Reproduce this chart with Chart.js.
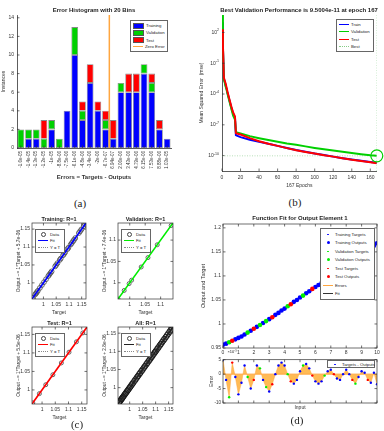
<!DOCTYPE html>
<html>
<head>
<meta charset="utf-8">
<script src="https://cdn.jsdelivr.net/npm/chart.js@4.4.1/dist/chart.umd.min.js"></script>
<style>
body{margin:0;width:384px;height:431px;position:relative;background:#fff;overflow:hidden;font-family:"Liberation Sans",Arial,sans-serif;color:#222}
.t{position:absolute;white-space:nowrap;transform:translate(-50%,-50%);font-weight:bold;font-size:6px}
.cap{position:absolute;white-space:nowrap;transform:translate(-50%,-50%);font-family:"Liberation Serif","DejaVu Serif",serif;font-size:11px}
.lg{position:absolute;border:0.8px solid #666;background:#fff;font-size:4.3px;box-sizing:border-box;padding:1px 2px;display:flex;flex-direction:column;justify-content:space-around}
.lg div{display:flex;align-items:center;white-space:nowrap}
.s{display:inline-block;margin-right:2px;width:10px;flex:none}
</style>
</head>
<body>
<script>
// ---------- (a) error histogram ----------
const binLabels = ['-1.6e-05','-1.4e-05','-1.3e-05','-1.2e-05','-1e-05','-8.8e-06','-7.5e-06','-6.1e-06','-4.8e-06','-3.4e-06',
  '-2e-06','-6.7e-07','6.94e-07','2.06e-06','3.43e-06','4.79e-06','6.15e-06','7.53e-06','8.88e-06','1.03e-05'];
const histTrain = [0,1,1,0,2,0,4,10,3,7,4,2,1,6,6,6,8,6,2,1];
const histVal   = [2,1,1,1,1,1,0,3,1,0,0,1,0,1,0,0,1,1,0,0];
const histTest  = [0,0,0,2,0,0,0,0,1,2,1,1,2,0,2,2,0,1,1,0];
const histYTicks = [0,2,4,6,8,10,12,14];
const zeroError = 0;

// ---------- (b) training performance, log10 of mse ----------
const epochs   = [0,1,2,3,4,5,6,8,10,12,14,15,16,20,30,40,50,60,70,80,90,100,110,120,130,140,150,160,167];
const trainLog = [3.0,0.5,-2.5,-2.8,-3.2,-3.5,-3.9,-4.6,-5.3,-5.9,-6.3,-8.0,-8.05,-8.2,-8.45,-8.65,-8.85,-9.05,-9.25,-9.45,-9.62,-9.8,-9.95,-10.1,-10.25,-10.38,-10.5,-10.62,-10.7];
const valLog   = [3.7,0.6,-2.6,-2.9,-3.3,-3.6,-4.0,-4.7,-5.4,-6.1,-6.5,-7.7,-7.75,-7.85,-8.1,-8.3,-8.48,-8.65,-8.82,-8.95,-9.1,-9.25,-9.38,-9.5,-9.63,-9.75,-9.86,-9.97,-10.02];
const testLog  = [2.3,0.8,-2.4,-2.7,-3.0,-3.4,-3.8,-4.5,-5.2,-5.8,-6.2,-7.8,-7.85,-7.95,-8.3,-8.6,-8.85,-9.05,-9.27,-9.47,-9.64,-9.8,-9.96,-10.1,-10.25,-10.4,-10.52,-10.65,-10.75];
const bestPerf = 9.5004e-11;
const bestEpoch = 167;
const perfTickExp = [-10,-7,-4,-1,2];
const epochTicks = [0,20,40,60,80,100,120,140,160];

// ---------- (c)/(d) samples ----------
const inputs  = [0,0.2,0.4,0.6,0.8,1,1.2,1.4,1.6,1.8,2,2.2,2.4,2.6,2.8,3,3.2,3.4,3.6,3.8,4,4.2,4.4,4.6,4.8,5,
  5.2,5.4,5.6,5.8,6,6.2,6.4,6.6,6.8,7,7.2,7.4,7.6,7.8,8,8.2,8.4,8.6,8.8,9,9.2,9.4,9.6,9.8,10];
const targets = [0.957,0.959,0.962,0.965,0.968,0.971,0.974,0.978,0.982,0.986,0.990,0.994,0.998,1.002,1.006,1.010,
  1.014,1.019,1.023,1.028,1.032,1.037,1.041,1.046,1.050,1.055,1.059,1.064,1.068,1.073,1.077,1.081,1.085,1.089,
  1.094,1.098,1.102,1.107,1.111,1.116,1.120,1.125,1.130,1.134,1.139,1.144,1.149,1.154,1.158,1.163,1.168];
// errors in units of 1e-6
const errors  = [5,-2,-8,4,-1,-7,-3,3,-1,-5,-2,3,2,-2,-4.5,-6,-3.5,0,3,4,3,0,-2.5,-3.3,-2,1,3,3.5,2,-0.5,
  -2.5,-3.3,-2.5,-0.5,1,1.5,0,-1.5,-2,0,1.5,0,-2,-3.3,-1,1,0.5,-2,-3,0.5,-3.5];
const valIdx  = [2,8,12,14,21,26,33,43];
const testIdx = [3,10,16,22,29,36,42,47];
const regTicks = [1,1.05,1.1,1.15];
const fitTicksY = [0.95,1,1.05,1.1,1.15,1.2];
const fitTicksX = [0,1,2,3,4,5,6,7,8,9,10];
const errTicks = [-10,-5,0,5];

const outputs = targets.map((t, i) => t - errors[i] * 1e-6);
const trainIdx = inputs.map((_, i) => i).filter(i => !valIdx.includes(i) && !testIdx.includes(i));
const allIdx = inputs.map((_, i) => i);

const FONT = '"Liberation Sans", Arial, sans-serif';
Chart.defaults.animation = false;
Chart.defaults.font.family = FONT;
Chart.defaults.font.size = 5;
Chart.defaults.color = '#333';
Chart.defaults.plugins.legend.display = false;
Chart.defaults.plugins.tooltip.enabled = false;

const BLUE = '#0000ff', GREEN = '#00d000', LIME = '#00ee00', RED = '#ff0000', ORANGE = '#ffa640';
const noGrid = { display: false, drawTicks: false };
const fmt = v => String(Math.round(v * 1e4) / 1e4);

function place(x, y, w, h) {
  const d = document.createElement('div');
  d.style.cssText = `position:absolute;left:${x}px;top:${y}px;width:${w}px;height:${h}px`;
  const c = document.createElement('canvas');
  d.appendChild(c);
  document.body.appendChild(d);
  return c;
}
function text(str, x, y, cls, style) {
  const d = document.createElement('div');
  d.className = cls;
  d.textContent = str;
  d.style.left = x + 'px';
  d.style.top = y + 'px';
  if (style) d.style.cssText += style;
  document.body.appendChild(d);
}
function sym(s) {
  if (s.k === 'rect') return `<span class="s" style="width:9px;height:4px;background:${s.c};border:0.5px solid #555"></span>`;
  if (s.k === 'line') return `<span class="s" style="border-top:${s.w || 1.5}px solid ${s.c}"></span>`;
  if (s.k === 'dash') return `<span class="s" style="border-top:0.7px dotted ${s.c}"></span>`;
  if (s.k === 'dot') return `<span class="s" style="text-align:center;line-height:0"><span style="display:inline-block;width:${s.r}px;height:${s.r}px;border-radius:50%;background:${s.c}"></span></span>`;
  return `<span class="s" style="text-align:center;line-height:0"><span style="display:inline-block;width:3px;height:3px;border-radius:50%;border:0.6px solid #444"></span></span>`;
}
function legend(x, y, w, h, items) {
  const d = document.createElement('div');
  d.className = 'lg';
  d.style.cssText += `left:${x}px;top:${y}px;width:${w}px;height:${h}px`;
  d.innerHTML = items.map(it => `<div>${sym(it)}<span>${it.t}</span></div>`).join('');
  document.body.appendChild(d);
}
const fixTicks = arr => function (s) { s.ticks = arr.map(v => ({ value: v })); };

// frame + inward ticks (MATLAB style)
const frame = {
  id: 'frame',
  afterDatasetsDraw(chart, args, opts) {
    const { ctx, chartArea: a } = chart;
    ctx.save();
    ctx.strokeStyle = '#333';
    ctx.lineWidth = 0.7;
    if (opts.box) ctx.strokeRect(a.left, a.top, a.right - a.left, a.bottom - a.top);
    ctx.beginPath();
    const L = 2.5;
    [chart.scales.x, chart.scales.y].forEach(s => {
      s.ticks.forEach(t => {
        const p = s.getPixelForValue(t.value);
        if (s.isHorizontal()) {
          ctx.moveTo(p, a.bottom); ctx.lineTo(p, a.bottom - L);
          if (opts.box) { ctx.moveTo(p, a.top); ctx.lineTo(p, a.top + L); }
        } else {
          ctx.moveTo(a.left, p); ctx.lineTo(a.left + L, p);
          if (opts.box) { ctx.moveTo(a.right, p); ctx.lineTo(a.right - L, p); }
        }
      });
    });
    ctx.stroke();
    ctx.restore();
  }
};

// "10^n" labels for the decade axis, placed with the y scale
const decadeLabels = {
  id: 'decadeLabels',
  afterDraw(chart) {
    const s = chart.scales.y, ctx = chart.ctx, xr = chart.chartArea.left - 3;
    ctx.save();
    ctx.fillStyle = '#333';
    ctx.textAlign = 'right';
    ctx.textBaseline = 'middle';
    s.ticks.forEach(t => {
      const y = s.getPixelForValue(t.value);
      const exp = String(Math.round(t.value));
      ctx.font = '3.6px ' + FONT;
      const ew = ctx.measureText(exp).width;
      ctx.fillText(exp, xr, y - 2);
      ctx.font = '5px ' + FONT;
      ctx.fillText('10', xr - ew, y);
    });
    ctx.restore();
  }
};

// zero-error line in histogram, placed between the bin centres around zero
const zeroLine = {
  id: 'zeroLine',
  afterDatasetsDraw(chart) {
    const s = chart.scales.x, a = chart.chartArea, ctx = chart.ctx;
    const c = binLabels.map(Number);
    const i = c.findIndex(v => v > zeroError);
    const f = (zeroError - c[i - 1]) / (c[i] - c[i - 1]);
    const px = s.getPixelForValue(i - 1) + f * (s.getPixelForValue(i) - s.getPixelForValue(i - 1));
    ctx.save();
    ctx.strokeStyle = ORANGE;
    ctx.lineWidth = 1.5;
    ctx.beginPath();
    ctx.moveTo(px, a.top);
    ctx.lineTo(px, a.bottom);
    ctx.stroke();
    ctx.restore();
  }
};

const axisBorder = { display: true, color: '#333', width: 0.8 };

// ===== (a) =====
new Chart(place(0, 0, 192, 190), {
  type: 'bar',
  data: {
    labels: binLabels,
    datasets: [
      { label: 'Training', data: histTrain, backgroundColor: BLUE },
      { label: 'Validation', data: histVal, backgroundColor: GREEN },
      { label: 'Test', data: histTest, backgroundColor: RED }
    ].map(d => ({ ...d, borderColor: '#888', borderWidth: 0.8, borderSkipped: false, barPercentage: 0.88, categoryPercentage: 1 }))
  },
  options: {
    responsive: true, maintainAspectRatio: false,
    layout: { padding: { left: 0, top: 15, right: 21, bottom: 5 } },
    scales: {
      x: {
        stacked: true, grid: noGrid, border: axisBorder,
        ticks: { minRotation: 90, maxRotation: 90, autoSkip: false, padding: 3, font: { size: 4.5 } },
        title: { display: true, text: 'Errors = Targets - Outputs', font: { size: 6, weight: 'bold' }, padding: { top: 0, bottom: 4 } },
        afterFit(s) { s.height = 37; }
      },
      y: {
        stacked: true, min: 0, max: 14.3, grid: noGrid, border: axisBorder,
        afterBuildTicks: fixTicks(histYTicks), ticks: { padding: 3 },
        title: { display: true, text: 'Instances', padding: { top: 1, bottom: 0 } },
        afterFit(s) { s.width = 17; }
      }
    },
    plugins: { frame: {} }
  },
  plugins: [frame, zeroLine]
});
text('Error Histogram with 20 Bins', 94, 10, 't');
legend(130, 20, 38, 32, [
  { k: 'rect', c: BLUE, t: 'Training' }, { k: 'rect', c: GREEN, t: 'Validation' },
  { k: 'rect', c: RED, t: 'Test' }, { k: 'line', c: ORANGE, t: 'Zero Error' }
]);
text('(a)', 80, 203, 'cap');

// ===== (b) ===== (y axis in decades, labelled as powers of ten)
const perfSet = (label, logs, color, order) => ({
  type: 'line', label, order, borderColor: color, borderWidth: 2, pointRadius: 0,
  data: epochs.map((e, i) => ({ x: e, y: logs[i] }))
});
const perfMin = -11.5, perfMax = 3.7, bestLog = Math.log10(bestPerf);
new Chart(place(192, 0, 192, 195), {
  type: 'scatter',
  data: {
    datasets: [
      perfSet('Test', testLog, RED, 1),
      perfSet('Validation', valLog, GREEN, 2),
      perfSet('Train', trainLog, BLUE, 3),
      { type: 'line', label: 'Best', order: 4, borderColor: '#8c8', borderWidth: 0.6, borderDash: [1, 1.5], pointRadius: 0,
        data: [{ x: 0, y: bestLog }, { x: bestEpoch, y: bestLog }] },
      { type: 'line', order: 4, borderColor: '#8c8', borderWidth: 0.6, borderDash: [1, 1.5], pointRadius: 0,
        data: [{ x: bestEpoch, y: perfMin }, { x: bestEpoch, y: perfMax }] },
      { label: 'Best point', order: 0, clip: false, pointRadius: 6, pointBorderWidth: 1.2, pointBorderColor: GREEN,
        pointBackgroundColor: 'rgba(0,0,0,0)', data: [{ x: bestEpoch, y: bestLog }] }
    ]
  },
  options: {
    responsive: true, maintainAspectRatio: false,
    layout: { padding: { left: 6, top: 15, right: 7, bottom: 2 } },
    scales: {
      x: {
        type: 'linear', min: 0, max: bestEpoch, grid: noGrid, border: axisBorder,
        afterBuildTicks: fixTicks(epochTicks), ticks: { padding: 4 },
        title: { display: true, text: bestEpoch + ' Epochs', padding: { top: 0, bottom: 4 } },
        afterFit(s) { s.height = 22; }
      },
      y: {
        type: 'linear', min: perfMin, max: perfMax, grid: noGrid, border: axisBorder,
        afterBuildTicks: fixTicks(perfTickExp), ticks: { display: false },
        title: { display: true, text: 'Mean Squared Error  (mse)', padding: { top: 1, bottom: 0 } },
        afterFit(s) { s.width = 24; }
      }
    },
    plugins: { frame: {} }
  },
  plugins: [frame, decadeLabels]
});
text('Best Validation Performance is 9.5004e-11 at epoch 167', 299, 10, 't');
legend(336, 19, 38, 33, [
  { k: 'line', c: BLUE, t: 'Train' }, { k: 'line', c: GREEN, t: 'Validation' },
  { k: 'line', c: RED, t: 'Test' }, { k: 'dash', c: '#8c8', t: 'Best' }
]);
text('(b)', 295, 202, 'cap');

// ===== (c) regression plots =====
function regPlot(bx, by, bw, bh, lo, hi, idx, title, yTitle, fitColor, ringColor, ringR) {
  const pts = idx.map(i => ({ x: targets[i], y: outputs[i] }));
  const tk = regTicks.filter(v => v <= hi);
  new Chart(place(bx - 32, by - 10, bw + 38, bh + 29), {
    type: 'scatter',
    data: {
      datasets: [
        { label: 'Fit', order: 0, showLine: true, borderColor: fitColor, borderWidth: 1.6, pointRadius: 0,
          data: [{ x: lo, y: lo }, { x: hi, y: hi }] },
        { label: 'Y = T', order: 1, showLine: true, borderColor: '#888', borderWidth: 0.6, borderDash: [1, 1], pointRadius: 0,
          data: [{ x: lo, y: lo }, { x: hi, y: hi }] },
        { label: 'Data', order: 2, pointRadius: ringR, pointBorderWidth: 0.9, pointBorderColor: ringColor,
          pointBackgroundColor: 'rgba(0,0,0,0)', data: pts }
      ]
    },
    options: {
      responsive: true, maintainAspectRatio: false,
      layout: { padding: { left: 16, top: 10, right: 6, bottom: 0 } },
      scales: {
        x: {
          type: 'linear', min: lo, max: hi, grid: noGrid, border: { display: false },
          afterBuildTicks: fixTicks(tk), ticks: { padding: 3, callback: fmt },
          title: { display: true, text: 'Target', padding: { top: 0, bottom: 2 } },
          afterFit(s) { s.height = 19; }
        },
        y: {
          type: 'linear', min: lo, max: hi, grid: noGrid, border: { display: false },
          afterBuildTicks: fixTicks(tk), ticks: { padding: 2, callback: fmt },
          title: { display: true, text: yTitle, font: { size: 4.8 }, padding: { top: 0, bottom: 0 } },
          afterFit(s) { s.width = 16; }
        }
      },
      plugins: { frame: { box: true } }
    },
    plugins: [frame]
  });
  text(title, bx + bw / 2, by - 4, 't', 'font-size:5.5px');
  legend(bx + 3, by + 6, 30, 24, [
    { k: 'ring', t: 'Data' }, { k: 'line', c: fitColor, t: 'Fit' }, { k: 'dash', c: '#888', t: 'Y = T' }
  ]);
}
regPlot(32, 223, 54, 76, 0.955, 1.167, trainIdx, 'Training: R=1', 'Output ~= 1*Target + 5.7e-06', BLUE, '#555', 2.4);
regPlot(118, 223, 55, 76, 0.962, 1.14, valIdx, 'Validation: R=1', 'Output ~= 1*Target + 7.4e-06', LIME, '#555', 2);
regPlot(32, 327, 55, 77, 0.962, 1.17, testIdx, 'Test: R=1', 'Output ~= 1*Target + 5.5e-06', RED, '#555', 2);
regPlot(118, 327, 55, 77, 0.955, 1.167, allIdx, 'All: R=1', 'Output ~= 1*Target + 2.8e-06', '#222', '#111', 2.8);
text('(c)', 77, 424, 'cap');

// ===== (d) function fit =====
const pick = (idx, ys) => idx.map(i => ({ x: inputs[i], y: ys[i] }));
const dots = (label, idx, ys, color, r, order) => ({ label, order, pointRadius: r, pointBorderWidth: 0, pointBackgroundColor: color, data: pick(idx, ys) });
new Chart(place(192, 212, 192, 144), {
  type: 'scatter',
  data: {
    datasets: [
      { label: 'Fit', order: 9, showLine: true, borderColor: '#222', borderWidth: 1.5, pointRadius: 0, data: pick(allIdx, outputs) },
      dots('Training Targets', trainIdx, targets, BLUE, 1, 6),
      dots('Validation Targets', valIdx, targets, LIME, 1, 5),
      dots('Test Targets', testIdx, targets, RED, 1, 4),
      dots('Training Outputs', trainIdx, outputs, BLUE, 2.3, 3),
      dots('Validation Outputs', valIdx, outputs, LIME, 2.3, 2),
      dots('Test Outputs', testIdx, outputs, RED, 2.3, 1)
    ]
  },
  options: {
    responsive: true, maintainAspectRatio: false,
    layout: { padding: { left: 8, top: 12, right: 7, bottom: 0 } },
    scales: {
      x: {
        type: 'linear', min: 0, max: 10, grid: noGrid, border: { display: false },
        afterBuildTicks: fixTicks(fitTicksX), ticks: { padding: 2, callback: fmt },
        afterFit(s) { s.height = 8; }
      },
      y: {
        type: 'linear', min: 0.95, max: 1.208, grid: noGrid, border: { display: false },
        afterBuildTicks: fixTicks(fitTicksY), ticks: { padding: 2, callback: fmt },
        title: { display: true, text: 'Output and Target', font: { size: 5.5 }, padding: { top: 0, bottom: 0 } },
        afterFit(s) { s.width = 23; }
      }
    },
    plugins: { frame: { box: true } }
  },
  plugins: [frame]
});
text('Function Fit for Output Element 1', 300, 218, 't');
text('×10⁻³', 232, 351, 't', 'font-weight:normal;font-size:4px');
legend(320, 228, 55, 72, [
  { k: 'dot', c: BLUE, r: 1.2, t: 'Training Targets' }, { k: 'dot', c: BLUE, r: 3, t: 'Training Outputs' },
  { k: 'dot', c: LIME, r: 1.2, t: 'Validation Targets' }, { k: 'dot', c: LIME, r: 3, t: 'Validation Outputs' },
  { k: 'dot', c: RED, r: 1.2, t: 'Test Targets' }, { k: 'dot', c: RED, r: 3, t: 'Test Outputs' },
  { k: 'line', c: ORANGE, t: 'Errors' }, { k: 'line', c: '#333', t: 'Fit' }
]);

// error subplot
const errDots = (idx, color) => ({ type: 'line', showLine: false, order: 1, pointRadius: 1.2, pointBorderWidth: 0,
  pointBackgroundColor: color, data: pick(idx, errors) });
new Chart(place(192, 355, 192, 58), {
  type: 'scatter',
  data: {
    datasets: [
      errDots(trainIdx, BLUE), errDots(valIdx, LIME), errDots(testIdx, RED),
      { type: 'line', order: 2, borderColor: ORANGE, borderWidth: 1, pointRadius: 0,
        data: [{ x: 0, y: zeroError }, { x: 10, y: zeroError }] },
      { type: 'line', label: 'Errors', order: 3, fill: 'origin', backgroundColor: '#ffbb55', borderColor: '#ffa640',
        borderWidth: 0.5, pointRadius: 0, data: pick(allIdx, errors) }
    ]
  },
  options: {
    responsive: true, maintainAspectRatio: false,
    layout: { padding: { left: 17, top: 2, right: 7, bottom: 0 } },
    scales: {
      x: {
        type: 'linear', min: 0, max: 10, grid: noGrid, border: { display: false },
        afterBuildTicks: fixTicks(fitTicksX), ticks: { display: false },
        title: { display: true, text: 'Input', padding: { top: 0, bottom: 2 } },
        afterFit(s) { s.height = 10; }
      },
      y: {
        type: 'linear', min: -10, max: 5, grid: noGrid, border: { display: false },
        afterBuildTicks: fixTicks(errTicks), ticks: { padding: 2, font: { size: 4.5 }, callback: fmt },
        title: { display: true, text: 'Error', padding: { top: 0, bottom: 0 } },
        afterFit(s) { s.width = 14; }
      }
    },
    plugins: { frame: { box: true } }
  },
  plugins: [frame]
});
legend(327, 360, 48, 8, [{ k: 'dot', c: BLUE, r: 1.2, t: 'Targets - Outputs' }]);
text('(d)', 297, 420, 'cap');
</script>
</body>
</html>
